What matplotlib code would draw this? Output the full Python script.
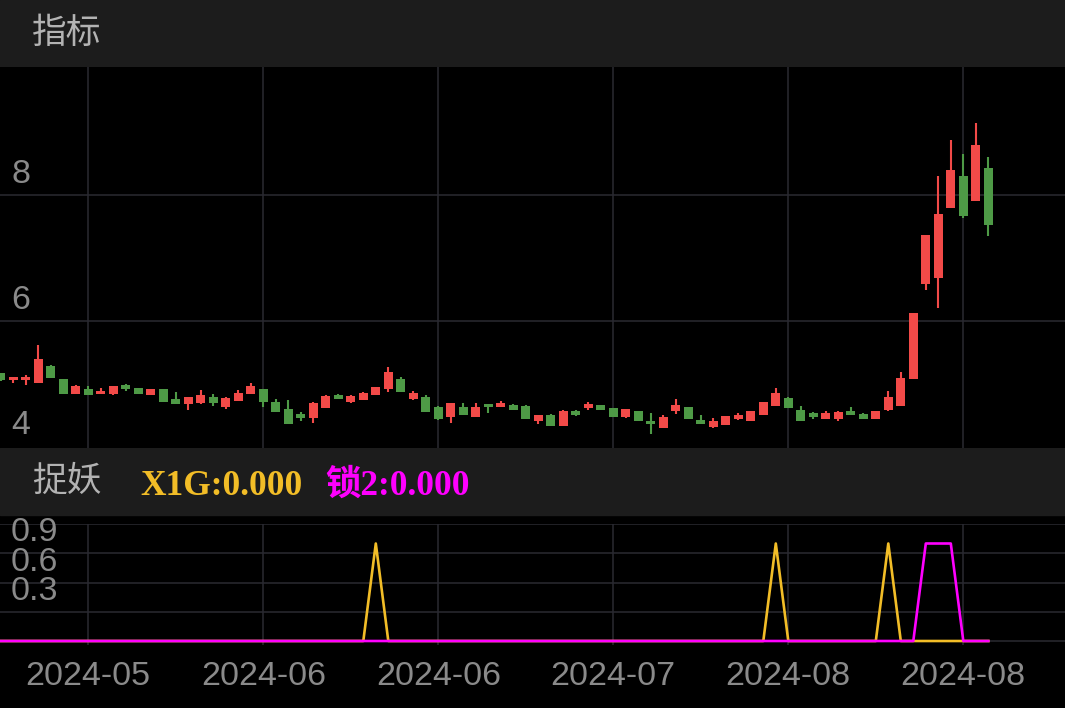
import pandas as pd
import matplotlib.pyplot as plt
from matplotlib.patches import Rectangle
from matplotlib.transforms import blended_transform_factory

# === DADOS ===
# candles (open/high/low/close), um por pregão
opens = [5.16, 5.05, 5.05, 5.01, 5.28, 5.07, 4.83, 4.92, 4.84, 4.83,
         4.97, 4.93, 4.82, 4.91, 4.76, 4.68, 4.69, 4.78, 4.63, 4.72,
         4.83, 4.91, 4.70, 4.59, 4.52, 4.45, 4.61, 4.82, 4.71, 4.74,
         4.81, 4.92, 5.07, 4.76, 4.78, 4.63, 4.46, 4.63, 4.47, 4.68,
         4.62, 4.66, 4.64, 4.40, 4.50, 4.33, 4.56, 4.61, 4.66, 4.61,
         4.47, 4.56, 4.41, 4.29, 4.57, 4.62, 4.42, 4.31, 4.34, 4.44,
         4.41, 4.50, 4.65, 4.77, 4.58, 4.53, 4.44, 4.44, 4.57, 4.51,
         4.44, 4.58, 4.64, 5.08, 6.58, 6.68, 7.80, 8.30, 7.91, 8.43]
highs = [5.16, 5.11, 5.14, 5.61, 5.29, 5.07, 4.98, 4.96, 4.93, 4.96,
         5.00, 4.93, 4.91, 4.91, 4.86, 4.78, 4.89, 4.83, 4.79, 4.90,
         5.01, 4.91, 4.75, 4.74, 4.55, 4.70, 4.81, 4.84, 4.81, 4.87,
         4.95, 5.26, 5.10, 4.88, 4.81, 4.65, 4.69, 4.69, 4.69, 4.68,
         4.72, 4.68, 4.66, 4.50, 4.51, 4.58, 4.58, 4.70, 4.66, 4.61,
         4.60, 4.56, 4.53, 4.50, 4.75, 4.62, 4.50, 4.45, 4.48, 4.53,
         4.56, 4.70, 4.93, 4.78, 4.64, 4.55, 4.56, 4.56, 4.62, 4.53,
         4.56, 4.88, 5.18, 6.13, 7.37, 8.30, 8.88, 8.66, 9.14, 8.60]
lows = [5.04, 5.01, 4.97, 5.01, 5.09, 4.83, 4.83, 4.81, 4.84, 4.81,
        4.88, 4.84, 4.82, 4.71, 4.68, 4.58, 4.68, 4.65, 4.60, 4.72,
        4.83, 4.63, 4.54, 4.36, 4.40, 4.37, 4.61, 4.75, 4.69, 4.74,
        4.81, 4.86, 4.86, 4.74, 4.55, 4.42, 4.38, 4.50, 4.47, 4.53,
        4.62, 4.58, 4.43, 4.36, 4.33, 4.33, 4.48, 4.58, 4.58, 4.46,
        4.45, 4.40, 4.19, 4.29, 4.52, 4.43, 4.35, 4.29, 4.34, 4.42,
        4.41, 4.50, 4.65, 4.61, 4.40, 4.44, 4.44, 4.41, 4.50, 4.43,
        4.44, 4.56, 4.64, 5.08, 6.49, 6.20, 7.80, 7.64, 7.91, 7.35]
closes = [5.05, 5.11, 5.11, 5.39, 5.09, 4.84, 4.96, 4.81, 4.88, 4.96,
          4.91, 4.84, 4.91, 4.71, 4.68, 4.78, 4.82, 4.69, 4.77, 4.85,
          4.96, 4.70, 4.54, 4.36, 4.45, 4.69, 4.80, 4.75, 4.80, 4.85,
          4.95, 5.19, 4.86, 4.85, 4.55, 4.43, 4.69, 4.50, 4.63, 4.62,
          4.69, 4.58, 4.43, 4.50, 4.33, 4.57, 4.50, 4.68, 4.58, 4.46,
          4.60, 4.40, 4.35, 4.47, 4.66, 4.43, 4.35, 4.40, 4.48, 4.50,
          4.56, 4.70, 4.85, 4.61, 4.40, 4.47, 4.53, 4.54, 4.50, 4.43,
          4.56, 4.78, 5.09, 6.13, 7.37, 7.70, 8.39, 7.67, 8.80, 7.53]

# indicador 捉妖
x1g = [0, 0, 0, 0, 0, 0, 0, 0, 0, 0, 0, 0, 0, 0, 0, 0, 0, 0, 0, 0,
       0, 0, 0, 0, 0, 0, 0, 0, 0, 0, 1, 0, 0, 0, 0, 0, 0, 0, 0, 0,
       0, 0, 0, 0, 0, 0, 0, 0, 0, 0, 0, 0, 0, 0, 0, 0, 0, 0, 0, 0,
       0, 0, 1, 0, 0, 0, 0, 0, 0, 0, 0, 1, 0, 0, 0, 0, 0, 0, 0, 0]
lock2 = [0, 0, 0, 0, 0, 0, 0, 0, 0, 0, 0, 0, 0, 0, 0, 0, 0, 0, 0, 0,
         0, 0, 0, 0, 0, 0, 0, 0, 0, 0, 0, 0, 0, 0, 0, 0, 0, 0, 0, 0,
         0, 0, 0, 0, 0, 0, 0, 0, 0, 0, 0, 0, 0, 0, 0, 0, 0, 0, 0, 0,
         0, 0, 0, 0, 0, 0, 0, 0, 0, 0, 0, 0, 0, 0, 1, 1, 1, 0, 0, 0]

# pregões (feriado chinês em 10/06)
datas = pd.bdate_range('2024-05-07', periods=len(opens), freq='C', holidays=['2024-06-10'])
ticks_idx = [7, 21, 35, 49, 63, 77]
ticks_lab = [datas[i].strftime('%Y-%m') for i in ticks_idx]

price_labels = [4, 6, 8]
ind_labels = [0.3, 0.6, 0.9]

# === ESTILO ===
RED = '#f24a48'
GREEN = '#4e9a46'
GRID = '#2a2a31'
HEADER = '#1c1c1c'
LABEL = '#8a8a8a'
TITLE = '#b3b3b3'
GOLD = '#f2bd27'
MAGENTA = '#ff00ff'
W, H = 1065, 708
SANS = ['Liberation Sans', 'DejaVu Sans']
CJK = ['Noto Sans CJK SC', 'DejaVu Sans']
SERIF = ['Liberation Serif', 'Noto Sans CJK SC']


def fy(px):
    return 1 - px / H


fig = plt.figure(figsize=(W / 100, H / 100), dpi=100, facecolor='black')

# barras de título
for y0, y1 in [(0, 67), (448, 515)]:
    fig.add_artist(Rectangle((0, fy(y1)), 1, (y1 - y0) / H,
                             transform=fig.transFigure, color=HEADER, zorder=0))
fig.text(32 / W, fy(33), '指标', family=CJK, fontsize=25, color=TITLE, va='center')
fig.text(32 / W, fy(481), '捉妖', family=CJK, fontsize=25, color=TITLE, va='center')
fig.text(140 / W, fy(495), 'X1G:0.000', family=SERIF, fontsize=25.5,
         fontweight='bold', color=GOLD, va='baseline')
fig.text(325 / W, fy(495), '锁2:0.000', family=SERIF, fontsize=25.5,
         fontweight='bold', color=MAGENTA, va='baseline')

xlim = (-0.064, 85.136)

# === candles ===
ax1 = fig.add_axes([0, fy(448), 1, 381 / H], facecolor='black')
idx = list(range(len(opens)))
cores = [RED if c >= o else GREEN for o, c in zip(opens, closes)]
base = [min(o, c) for o, c in zip(opens, closes)]
alt = [max(abs(c - o), 0.025) for o, c in zip(opens, closes)]
ax1.vlines(idx, lows, highs, colors=cores, linewidth=1.5, zorder=3)
ax1.bar(idx, alt, bottom=base, width=0.72, color=cores, linewidth=0, zorder=4)
ax1.set_xlim(*xlim)
ax1.set_ylim(3.9745, 10.0366)
ax1.set_xticks(ticks_idx)
ax1.set_yticks([6, 8])
ax1.grid(True, color=GRID, linewidth=1.1)
ax1.tick_params(length=0, labelbottom=False, labelleft=False)
for s in ax1.spines.values():
    s.set_visible(False)
for v in price_labels:
    ax1.annotate(str(v), xy=(0, v), xycoords=('axes fraction', 'data'),
                 xytext=(8, 8.6), textcoords='offset points', va='baseline',
                 ha='left', family=SANS, fontsize=24.5, color=LABEL)

# === indicador ===
ax2 = fig.add_axes([0, fy(645), 1, 121 / H], facecolor='black')
ax2.plot(idx, x1g, color=GOLD, linewidth=1.9, zorder=3)
ax2.plot(idx, lock2, color=MAGENTA, linewidth=1.9, zorder=4)
ax2.set_xlim(*xlim)
ax2.set_ylim(-0.041, 1.2)
ax2.set_xticks(ticks_idx, ticks_lab)
ax2.set_yticks([0, 0.3, 0.6, 0.9, 1.2])
ax2.grid(True, color=GRID, linewidth=1.1)
ax2.tick_params(length=0, labelleft=False, pad=11.3, labelcolor=LABEL, labelsize=24.5)
for t in ax2.get_xticklabels():
    t.set_family(SANS)
for s in ax2.spines.values():
    s.set_visible(False)
for v in ind_labels:
    ax2.annotate(str(v), xy=(0, v), xycoords=('axes fraction', 'data'),
                 xytext=(8, 8.6), textcoords='offset points', va='baseline',
                 ha='left', family=SANS, fontsize=24.5, color=LABEL, zorder=5)

fig.savefig('out.png', dpi=100, facecolor='black')
